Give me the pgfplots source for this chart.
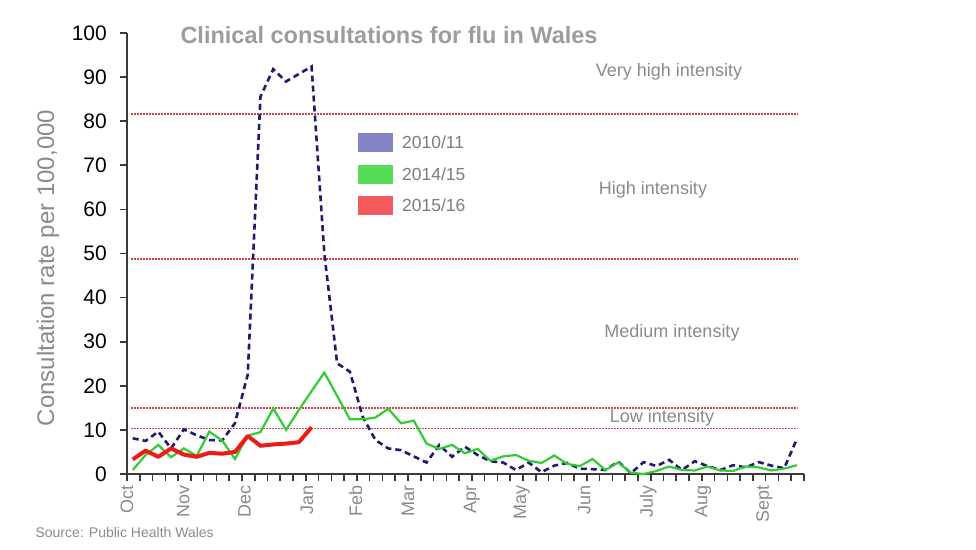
\documentclass[border=0pt]{standalone}
\usepackage{fontspec}
\setmainfont{Liberation Sans}
\usepackage{pgfplots}
\pgfplotsset{compat=1.18}
\usepackage{pgfplotstable}

\definecolor{navyline}{HTML}{1C1C72}
\definecolor{greenline}{HTML}{33CC33}
\definecolor{redline}{HTML}{EE1A1A}
\definecolor{thr}{HTML}{D6404E}
\definecolor{legblue}{HTML}{8484C4}
\definecolor{leggreen}{HTML}{55DD55}
\definecolor{legred}{HTML}{F25A5E}
\definecolor{axgray}{HTML}{3A3A3A}
\definecolor{txtgray}{HTML}{8A8A8A}

\pgfplotstableread{
w v
0 8.1
1 7.5
2 9.6
3 5.8
4 10.1
5 8.8
6 7.7
7 7.6
8 11.5
9 22.5
10 85.6
11 91.8
12 89.0
13 90.7
14 92.4
15 50.0
16 25.1
17 23.2
18 13.0
19 7.7
20 5.8
21 5.4
22 4.0
23 2.6
24 6.6
25 3.9
26 6.2
27 4.3
28 2.9
29 2.6
30 0.9
31 2.6
32 0.4
33 1.9
34 2.5
35 1.2
36 1.1
37 0.9
38 2.8
39 0.2
40 2.7
41 1.8
42 3.2
43 0.9
44 2.9
45 1.8
46 0.9
47 2.0
48 1.5
49 2.7
50 1.9
51 1.3
52 8.0
}\seasonA

\pgfplotstableread{
w v
0 0.9
1 4.3
2 6.6
3 3.8
4 5.8
5 4.1
6 9.6
7 7.6
8 3.4
9 8.7
10 9.5
11 14.9
12 10.0
13 14.5
14 18.8
15 23.0
16 17.7
17 12.4
18 12.4
19 12.8
20 14.8
21 11.5
22 12.1
23 6.9
24 5.7
25 6.6
26 4.7
27 5.7
28 3.0
29 4.0
30 4.3
31 3.0
32 2.5
33 4.2
34 2.3
35 1.8
36 3.4
37 0.9
38 2.6
39 0.3
40 0.0
41 0.7
42 1.7
43 0.9
44 0.8
45 1.7
46 0.8
47 0.7
48 1.7
49 1.5
50 0.8
51 1.2
52 2.0
}\seasonB

\pgfplotstableread{
w v
0 3.3
1 5.3
2 3.9
3 5.8
4 4.4
5 3.9
6 4.8
7 4.6
8 5.0
9 8.6
10 6.4
11 6.7
12 6.9
13 7.2
14 10.6
}\seasonC

\begin{document}
\begin{tikzpicture}
\path[use as bounding box] (-127pt,-75pt) rectangle (849pt,474pt);
\begin{axis}[
  at={(0pt,0pt)}, anchor=south west,
  scale only axis, width=677pt, height=441pt,
  xmin=0, xmax=53, ymin=0, ymax=100,
  axis x line*=bottom, axis y line*=left,
  axis line style={axgray, line width=2pt},
  xtick={0,1,...,53}, xticklabels={},
  ytick={0,10,...,100},
  tick align=outside, major tick length=7pt,
  tick style={axgray, line width=1.6pt},
  /pgf/number format/assume math mode=true,
  yticklabel style={font=\fontsize{21}{24}\selectfont, black, inner sep=0pt},
  yticklabel shift=13pt,
  extra x ticks={0,4.4,9.2,14.1,17.9,22,27,30.9,35.8,40.8,45.1,49.9},
  extra x tick labels={Oct,Nov,Dec,Jan,Feb,Mar,Apr,May,Jun,July,Aug,Sept},
  extra x tick style={grid=none, major tick length=0pt,
    xticklabel shift=11pt,
    xticklabel style={rotate=90, anchor=east, inner sep=0pt,
      font=\fontsize{18}{20}\selectfont, text=txtgray}},
  clip=false,
  legend image code/.code={\fill (0pt,-9.5pt) rectangle (35pt,9.5pt);},
  legend cell align=left,
  legend style={draw=none, fill=none, inner sep=0pt,
    at={(0.3412,0.7732)}, anchor=north west,
    row sep=12.5pt,
    font=\fontsize{17.5}{20}\selectfont, text=txtgray!90!black,
    nodes={inner sep=0pt, text height=12.5pt, text depth=0pt},
    /tikz/every odd column/.append style={column sep=9pt}},
]
\addlegendimage{draw=none, fill=legblue}
\addlegendentry{2010/11}
\addlegendimage{draw=none, fill=leggreen}
\addlegendentry{2014/15}
\addlegendimage{draw=none, fill=legred}
\addlegendentry{2015/16}

\addplot[forget plot, thr, line width=1.6pt, dash pattern=on 1.3pt off 1.7pt] coordinates {(0.35,81.7) (52.5,81.7)};
\addplot[forget plot, thr, line width=1.6pt, dash pattern=on 1.3pt off 1.7pt] coordinates {(0.35,48.8) (52.5,48.8)};
\addplot[forget plot, thr, line width=1.6pt, dash pattern=on 1.3pt off 1.7pt] coordinates {(0.35,15.0) (52.5,15.0)};
\addplot[forget plot, thr, line width=1.6pt, dash pattern=on 1.3pt off 1.7pt] coordinates {(0.35,10.3) (52.5,10.3)};

\addplot[forget plot, navyline, line width=2.6pt, dash pattern=on 6pt off 4pt] table[x expr=\thisrow{w}+0.45, y=v] {\seasonA};
\addplot[forget plot, greenline, line width=2.2pt] table[x expr=\thisrow{w}+0.45, y=v] {\seasonB};
\addplot[forget plot, redline, line width=4pt, line join=round] table[x expr=\thisrow{w}+0.45, y=v] {\seasonC};
\end{axis}

\node[font=\bfseries\fontsize{23.5}{26}\selectfont, text=txtgray!85!white, anchor=center] at (262pt,438.5pt) {Clinical consultations for flu in Wales};
\node[font=\fontsize{24}{28}\selectfont, text=txtgray, rotate=90, anchor=center] at (-79pt,206pt) {Consultation rate per 100,000};
\node[font=\fontsize{18}{21}\selectfont, text=txtgray, anchor=center] at (542pt,402pt) {Very high intensity};
\node[font=\fontsize{18}{21}\selectfont, text=txtgray, anchor=center] at (526pt,284pt) {High intensity};
\node[font=\fontsize{18}{21}\selectfont, text=txtgray, anchor=center] at (545pt,141pt) {Medium intensity};
\node[font=\fontsize{18}{21}\selectfont, text=txtgray, anchor=center] at (535pt,56pt) {Low intensity};
\node[font=\fontsize{14}{16}\selectfont, text=txtgray, anchor=west] at (-95pt,-58pt) {Source: Public Health Wales};
\end{tikzpicture}
\end{document}
